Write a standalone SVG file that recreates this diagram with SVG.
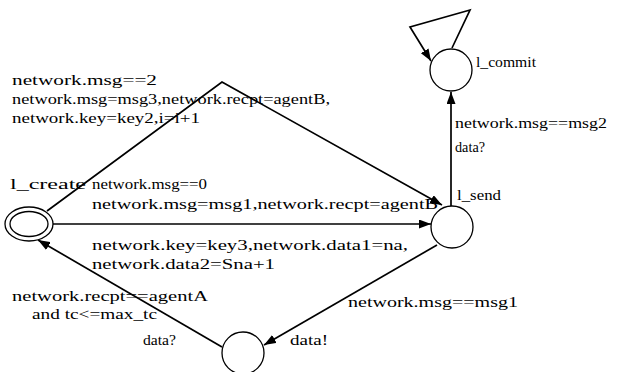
<svg xmlns="http://www.w3.org/2000/svg" width="627" height="372" viewBox="0 0 627 372">
<defs>
<marker id="arr" markerWidth="12" markerHeight="9" refX="12" refY="4.5" orient="auto" markerUnits="userSpaceOnUse">
<path d="M0,0 L12,4.5 L0,9 z" fill="#000"/>
</marker>
<style>
.node{fill:#fff;stroke:#000;stroke-width:1.3}
.edge{fill:none;stroke:#000;stroke-width:1.7}
.lbl{font-family:"Liberation Serif","Times New Roman",serif;font-size:15px;fill:#000}
</style>
</defs>
<rect width="627" height="372" fill="#fff"/>
<g id="connectors">
<path class="edge" d="M53,224 L431,224" marker-end="url(#arr)"/>
<path class="edge" d="M47,211 L222,82 L442,205" marker-end="url(#arr)"/>
<path class="edge" d="M451,206 L451,92" marker-end="url(#arr)"/>
<path class="edge" d="M437,245 L264,345" marker-end="url(#arr)"/>
<path class="edge" d="M222,347 L38,240" marker-end="url(#arr)"/>
<path class="edge" d="M452,48 L470,10 L410,27 L431,61" marker-end="url(#arr)"/>
</g>
<g id="l_create">
<ellipse class="node" cx="29" cy="224" rx="24" ry="17"/>
<ellipse class="node" cx="29" cy="224" rx="19" ry="12.5"/>
<text class="lbl" x="10" y="189" textLength="76" lengthAdjust="spacingAndGlyphs">l_create</text>
</g>
<g id="l_send">
<circle class="node" cx="452" cy="227" r="21"/>
<text class="lbl" x="457" y="200" textLength="44" lengthAdjust="spacingAndGlyphs">l_send</text>
</g>
<g id="l_commit">
<circle class="node" cx="451" cy="70" r="21"/>
<text class="lbl" x="476" y="67" textLength="60" lengthAdjust="spacingAndGlyphs">l_commit</text>
</g>
<g id="l_data">
<circle class="node" cx="243" cy="353" r="21"/>
</g>
<g id="labels">
<text class="lbl" x="12" y="85" textLength="145" lengthAdjust="spacingAndGlyphs">network.msg==2</text>
<text class="lbl" x="12" y="104" textLength="318" lengthAdjust="spacingAndGlyphs">network.msg=msg3,network.recpt=agentB,</text>
<text class="lbl" x="12" y="123" textLength="188" lengthAdjust="spacingAndGlyphs">network.key=key2,i=i+1</text>
<text class="lbl" x="92" y="189" textLength="115" lengthAdjust="spacingAndGlyphs">network.msg==0</text>
<text class="lbl" x="92" y="209" textLength="346" lengthAdjust="spacingAndGlyphs">network.msg=msg1,network.recpt=agentB</text>
<text class="lbl" x="92" y="250" textLength="316" lengthAdjust="spacingAndGlyphs">network.key=key3,network.data1=na,</text>
<text class="lbl" x="92" y="269" textLength="183" lengthAdjust="spacingAndGlyphs">network.data2=Sna+1</text>
<text class="lbl" x="12" y="301" textLength="196" lengthAdjust="spacingAndGlyphs">network.recpt==agentA</text>
<text class="lbl" x="32" y="319" textLength="125" lengthAdjust="spacingAndGlyphs">and tc&lt;=max_tc</text>
<text class="lbl" x="143" y="345" textLength="33" lengthAdjust="spacingAndGlyphs">data?</text>
<text class="lbl" x="290" y="345" textLength="38" lengthAdjust="spacingAndGlyphs">data!</text>
<text class="lbl" x="348" y="307" textLength="170" lengthAdjust="spacingAndGlyphs">network.msg==msg1</text>
<text class="lbl" x="455" y="128" textLength="152" lengthAdjust="spacingAndGlyphs">network.msg==msg2</text>
<text class="lbl" x="455" y="152" textLength="30" lengthAdjust="spacingAndGlyphs">data?</text>
</g>
</svg>
